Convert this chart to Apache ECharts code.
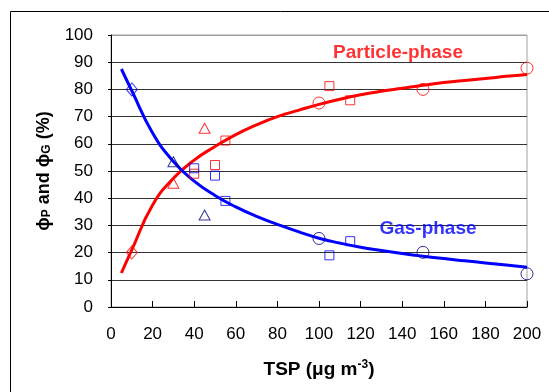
<!DOCTYPE html>
<html>
<head>
<meta charset="utf-8">
<script src="https://cdn.jsdelivr.net/npm/echarts@6/dist/echarts.min.js"></script>
<style>html,body{margin:0;padding:0;background:#fff}#c{width:549px;height:392px}</style>
</head>
<body>
<div id="c"></div>
<script>
// Fitted curves
var curveX = [5, 10, 20, 30, 40, 50, 60, 70, 80, 90, 100, 110, 120, 130, 140, 150, 160, 170, 180, 190, 200];
var particleCurve = [12.5, 21, 37.5, 47.3, 54, 59, 63.4, 67, 70, 72.3, 74.5, 76.4, 78, 79.3, 80.4, 81.5, 82.5, 83.3, 84, 84.8, 85.5];
var gasCurve = [87.5, 79.5, 64, 53.5, 46.3, 41, 36.8, 33.3, 30.4, 27.7, 25.3, 23.5, 22, 20.8, 19.7, 18.7, 17.8, 17, 16.2, 15.4, 14.6];

// Particle-phase measured points
var pDiamond = [[10, 20]];
var pTriangle = [[30, 45.5], [45, 65.7]];
var pSquare = [[40, 49], [50, 52.2], [55, 61.2], [105, 81.2], [115, 76]];
var pCircle = [[100, 75], [150, 80], [200, 87.8]];

// Gas-phase measured points
var gDiamond = [[10, 80]];
var gTriangle = [[30, 53.4], [45, 33.8]];
var gSquare = [[40, 51], [50, 48.3], [55, 39], [105, 19], [115, 24.2]];
var gCircle = [[100, 25.2], [150, 20.1], [200, 12.2]];

// Annotations
var labels = [{ value: [138, 93.4], name: 'Particle-phase', color: '#ff0000' },
              { value: [152.4, 28.7], name: 'Gas-phase', color: '#0000ff' }];

var xTicks = [0, 20, 40, 60, 80, 100, 120, 140, 160, 180, 200];
var yTicks = [0, 10, 20, 30, 40, 50, 60, 70, 80, 90, 100];

var FONT = 'Liberation Sans, Arial, sans-serif';
var chart = echarts.init(document.getElementById('c'), null, { renderer: 'canvas' });

function pairs(xs, ys) { return xs.map(function (x, i) { return [x, ys[i]]; }); }
function hollow(name, data, symbol, size, color) {
  return {
    type: 'scatter', name: name, data: data, symbol: symbol, symbolSize: size, z: 5,
    itemStyle: { color: 'rgba(0,0,0,0)', borderColor: color, borderWidth: 1 },
    emphasis: { disabled: true }
  };
}

var gridColors = yTicks.map(function (v) { return v === 100 ? '#a0a0a0' : '#333333'; });

chart.setOption({
  animation: false,
  backgroundColor: '#ffffff',
  graphic: [{
    type: 'rect', shape: { x: 10.5, y: 11.5, width: 700, height: 600 },
    style: { fill: 'none', stroke: '#000', lineWidth: 1 }, z: -10, silent: true
  }],
  grid: { left: 111, right: 22, top: 35, bottom: 85, show: true, borderColor: '#a0a0a0', borderWidth: 1 },
  xAxis: {
    type: 'value', min: xTicks[0], max: xTicks[xTicks.length - 1], interval: 20,
    name: '{b|TSP (μg m}{sup|-3}{b|)}', nameLocation: 'middle', nameGap: 52,
    nameTextStyle: {
      rich: {
        b: { fontFamily: FONT, fontSize: 19, fontWeight: 'bold', color: '#000' },
        sup: { fontFamily: FONT, fontSize: 12, fontWeight: 'bold', color: '#000', verticalAlign: 'top', padding: [0, 0, 9, 0] }
      }
    },
    axisLine: { lineStyle: { color: '#000', width: 1 } },
    axisTick: { inside: true, length: 6, lineStyle: { color: '#000' } },
    axisLabel: { fontFamily: FONT, fontSize: 17, color: '#000', margin: 19 },
    splitLine: { show: false }
  },
  yAxis: {
    type: 'value', min: yTicks[0], max: yTicks[yTicks.length - 1], interval: 10,
    name: '{b|ϕ}{s|P}{b| and ϕ}{s|G}{b| (%)}', nameLocation: 'middle', nameGap: 58,
    nameTextStyle: {
      rich: {
        b: { fontFamily: FONT, fontSize: 18, fontWeight: 'bold', color: '#000' },
        s: { fontFamily: FONT, fontSize: 12, fontWeight: 'bold', color: '#000', verticalAlign: 'bottom' }
      }
    },
    axisLine: { show: true, lineStyle: { color: '#000', width: 1 } },
    axisTick: { show: true, length: 3, lineStyle: { color: '#000' } },
    axisLabel: { fontFamily: FONT, fontSize: 17, color: '#000', margin: 18 },
    splitLine: { show: true, lineStyle: { color: gridColors, width: 1 } }
  },
  series: [
    { type: 'line', name: 'Particle curve', data: pairs(curveX, particleCurve), smooth: 0.5, symbol: 'none',
      lineStyle: { color: '#ff0000', width: 3 }, z: 3 },
    { type: 'line', name: 'Gas curve', data: pairs(curveX, gasCurve), smooth: 0.5, symbol: 'none',
      lineStyle: { color: '#0000ff', width: 3 }, z: 3 },
    hollow('pD', pDiamond, 'diamond', [11, 13], '#ff0000'),
    hollow('pT', pTriangle, 'triangle', [11, 10], '#ff0000'),
    hollow('pS', pSquare, 'rect', 9, '#ff0000'),
    hollow('pC', pCircle, 'circle', 12, '#ff0000'),
    hollow('gD', gDiamond, 'diamond', [11, 13], '#0000ff'),
    hollow('gT', gTriangle, 'triangle', [11, 10], '#000080'),
    hollow('gS', gSquare, 'rect', 9, '#0000ff'),
    hollow('gC', gCircle, 'circle', 12, '#000080'),
    {
      type: 'scatter', name: 'labels', symbolSize: 0, z: 6,
      data: labels.map(function (l) {
        return { value: l.value, name: l.name, label: { color: l.color } };
      }),
      label: {
        show: true, position: 'inside', formatter: '{b}',
        fontFamily: FONT, fontSize: 19, fontWeight: 'bold'
      }
    }
  ]
});
</script>
</body>
</html>
